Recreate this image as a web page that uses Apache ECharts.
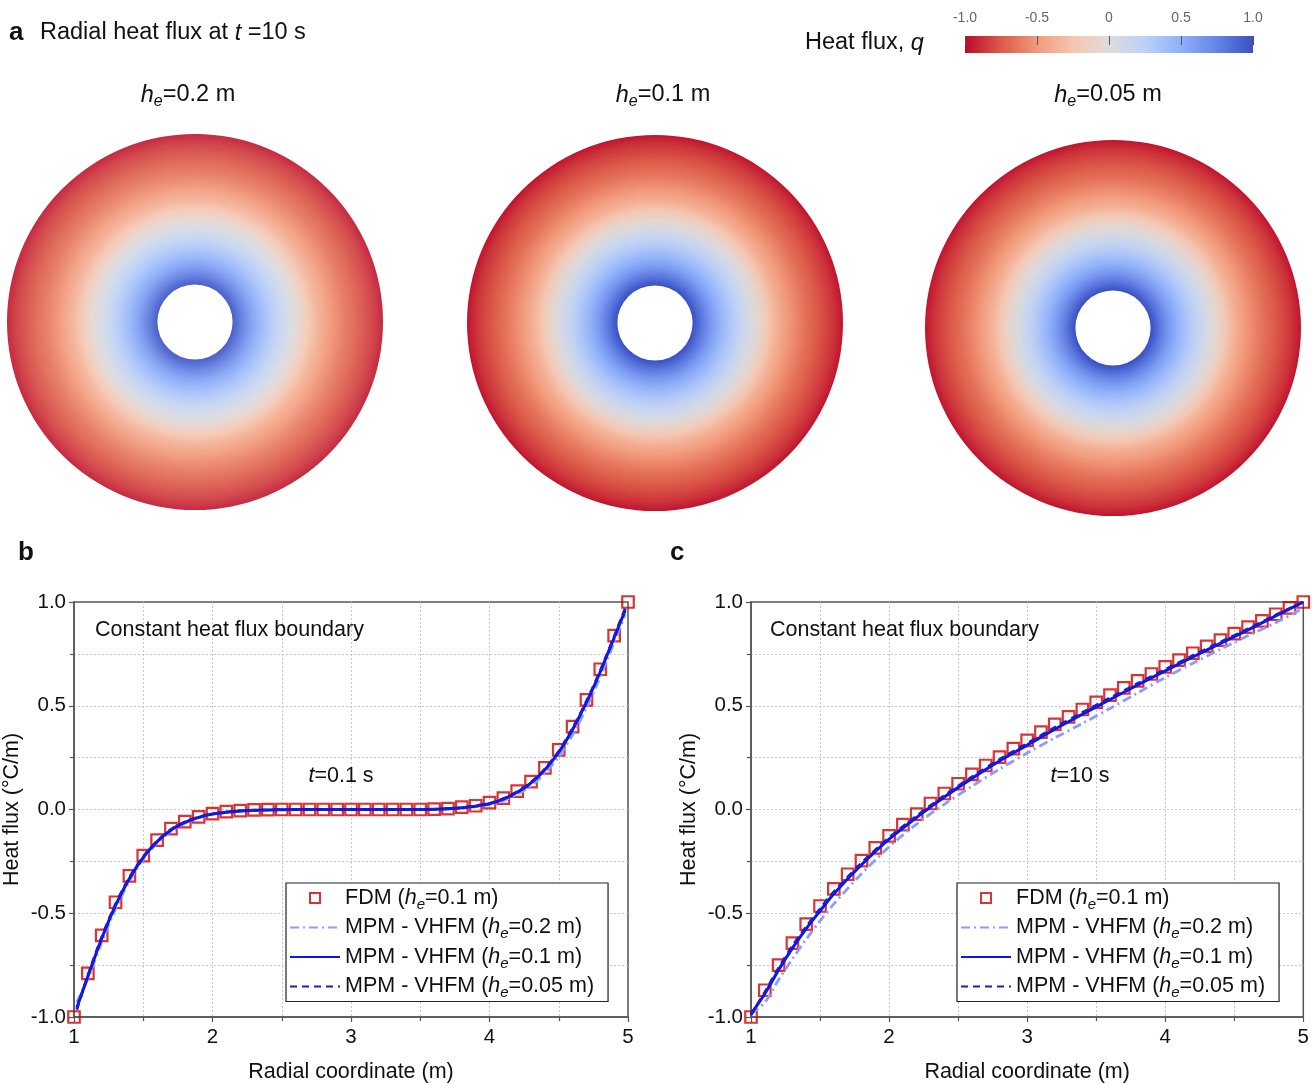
<!DOCTYPE html>
<html>
<head>
<meta charset="utf-8">
<script src="https://cdn.jsdelivr.net/npm/echarts@6/dist/echarts.min.js"></script>
<style>
  html, body { margin: 0; padding: 0; background: #fff; }
  #chart { width: 1312px; height: 1084px; }
</style>
</head>
<body>
<div id="chart"></div>
<script>
const FONT = '"Liberation Sans", Arial, Helvetica, sans-serif';

// Cool-to-warm colour scale used for heat flux q
const scaleValues = [-1, -0.75, -0.5, -0.25, 0, 0.25, 0.5, 0.75, 1];
const scaleColors = ['#bc0a2c', '#dc5a48', '#f29a7b', '#f5c6b0', '#dedcdc', '#bcd1f6', '#8fb0fb', '#6384e6', '#3b4fc4'];
const colorbarTicks = [-1, -0.5, 0, 0.5, 1];

// Radial heat flux inside the wall at t = 10 s (disk maps)
const diskLabels = ['0.2', '0.1', '0.05'];
const diskRadius = [1.0, 1.25, 1.5, 1.75, 2.0, 2.25, 2.5, 2.75, 3.0, 3.25, 3.5, 3.75, 4.0, 4.25, 4.5, 4.75, 5.0];
const diskFlux = [1.0, 0.8, 0.62, 0.47, 0.33, 0.2, 0.07, -0.08, -0.24, -0.38, -0.49, -0.58, -0.66, -0.73, -0.8, -0.87, -0.97];

// FDM reference solution (he = 0.1 m), radii 1.0 ... 5.0 step 0.1
const fdmRadius = [1.0, 1.1, 1.2, 1.3, 1.4, 1.5, 1.6, 1.7, 1.8, 1.9, 2.0, 2.1, 2.2, 2.3, 2.4, 2.5, 2.6, 2.7, 2.8, 2.9,
  3.0, 3.1, 3.2, 3.3, 3.4, 3.5, 3.6, 3.7, 3.8, 3.9, 4.0, 4.1, 4.2, 4.3, 4.4, 4.5, 4.6, 4.7, 4.8, 4.9, 5.0];
const fdmT01 = [-1.0, -0.79, -0.607, -0.447, -0.32, -0.222, -0.148, -0.092, -0.058, -0.036, -0.02, -0.01, -0.005, -0.002, -0.001,
  0, 0, 0, 0, 0, 0, 0, 0, 0, 0, 0, 0.002, 0.004, 0.011, 0.018, 0.033, 0.055, 0.089, 0.134, 0.201, 0.287, 0.399, 0.528, 0.676, 0.838, 1.0];
const fdmT10 = [-1.0, -0.871, -0.75, -0.644, -0.552, -0.465, -0.383, -0.312, -0.246, -0.185, -0.127, -0.073, -0.022, 0.029, 0.077,
  0.124, 0.169, 0.212, 0.252, 0.293, 0.333, 0.373, 0.41, 0.446, 0.482, 0.516, 0.551, 0.586, 0.62, 0.653, 0.687, 0.72, 0.753,
  0.786, 0.816, 0.848, 0.879, 0.909, 0.941, 0.972, 1.0];

// MPM - VHFM results at t = 0.1 s
const mpmRadiusT01 = [1.02, 1.1, 1.2, 1.3, 1.4, 1.5, 1.6, 1.7, 1.8, 1.9, 2.0, 2.2, 2.4, 2.6, 2.8, 3.0, 3.2, 3.4, 3.6, 3.8,
  4.0, 4.1, 4.2, 4.3, 4.4, 4.5, 4.6, 4.7, 4.8, 4.9, 4.98];
const mpmT01h02 = [-0.93, -0.815, -0.64, -0.478, -0.345, -0.24, -0.162, -0.104, -0.066, -0.041, -0.024, -0.008, -0.003, 0, 0, 0, 0, 0,
  0.001, 0.006, 0.024, 0.043, 0.074, 0.115, 0.175, 0.255, 0.36, 0.49, 0.64, 0.805, 0.94];
const mpmT01h01 = [-0.955, -0.805, -0.622, -0.462, -0.333, -0.231, -0.155, -0.099, -0.062, -0.038, -0.022, -0.007, -0.002, 0, 0, 0, 0, 0,
  0.001, 0.008, 0.028, 0.05, 0.083, 0.128, 0.192, 0.276, 0.386, 0.516, 0.664, 0.828, 0.96];
const mpmT01h005 = [-0.965, -0.8, -0.615, -0.456, -0.328, -0.227, -0.152, -0.096, -0.06, -0.037, -0.021, -0.006, -0.002, 0, 0, 0, 0, 0,
  0.001, 0.009, 0.03, 0.053, 0.086, 0.131, 0.196, 0.281, 0.392, 0.522, 0.67, 0.834, 0.97];

// MPM - VHFM results at t = 10 s
const mpmRadiusT10 = [1.0, 1.1, 1.2, 1.3, 1.4, 1.5, 1.6, 1.8, 2.0, 2.2, 2.4, 2.6, 2.8, 3.0, 3.2, 3.4, 3.6, 3.8, 4.0, 4.2, 4.4, 4.6, 4.8, 5.0];
const mpmT10h02 = [-0.985, -0.93, -0.82, -0.72, -0.625, -0.537, -0.455, -0.31, -0.18, -0.07, 0.025, 0.112, 0.195, 0.272, 0.345, 0.415,
  0.487, 0.562, 0.636, 0.705, 0.772, 0.838, 0.9, 0.97];
const mpmT10h01 = [-0.985, -0.888, -0.773, -0.668, -0.574, -0.489, -0.406, -0.266, -0.143, -0.038, 0.06, 0.15, 0.234, 0.31, 0.387, 0.459,
  0.53, 0.6, 0.668, 0.735, 0.801, 0.866, 0.933, 1.0];
const mpmT10h005 = [-0.99, -0.88, -0.764, -0.658, -0.565, -0.479, -0.397, -0.258, -0.136, -0.031, 0.067, 0.157, 0.241, 0.318, 0.395, 0.467,
  0.538, 0.607, 0.675, 0.742, 0.807, 0.871, 0.937, 1.0];

const SERIES_NAMES = ['FDM (h_e=0.1 m)', 'MPM - VHFM (h_e=0.2 m)', 'MPM - VHFM (h_e=0.1 m)', 'MPM - VHFM (h_e=0.05 m)'];

function zip(xs, ys) { return xs.map((x, i) => [x, ys[i]]); }

function hexToRgb(h) {
  return [parseInt(h.slice(1, 3), 16), parseInt(h.slice(3, 5), 16), parseInt(h.slice(5, 7), 16)];
}
function colorAt(v) {
  const n = scaleValues.length;
  if (v <= scaleValues[0]) return scaleColors[0];
  if (v >= scaleValues[n - 1]) return scaleColors[n - 1];
  for (let i = 0; i < n - 1; i++) {
    if (v <= scaleValues[i + 1]) {
      const t = (v - scaleValues[i]) / (scaleValues[i + 1] - scaleValues[i]);
      const a = hexToRgb(scaleColors[i]), b = hexToRgb(scaleColors[i + 1]);
      const c = a.map((x, k) => Math.round(x + (b[k] - x) * t));
      return 'rgb(' + c.join(',') + ')';
    }
  }
}

const rMax = diskRadius[diskRadius.length - 1];
const diskGradient = {
  type: 'radial', x: 0.5, y: 0.5, r: 0.5,
  colorStops: diskRadius.map((r, i) => ({ offset: r / rMax, color: colorAt(diskFlux[i]) }))
};
const barGradientStops = scaleValues.map((v, i) => ({
  offset: (v - scaleValues[0]) / (scaleValues[scaleValues.length - 1] - scaleValues[0]),
  color: scaleColors[i]
}));

const diskCenters = [[195, 322], [655, 323], [1113, 328]];
const diskOuter = 188;
// coarse mesh (he = 0.2 m) shows its particle cells as a faint grid
const cellTexture = {
  symbol: 'rect', symbolSize: 1, symbolKeepAspect: false,
  color: 'rgba(0,0,0,0)', backgroundColor: 'rgba(255,255,255,0.09)',
  dashArrayX: [[3.6, 0.9]], dashArrayY: [3.6, 0.9], rotation: 0
};

// rich styles for the graphic texts (top panel 23.5px, lower panels 21.5px)
function makeRich(size, sub) {
  return {
    it: { fontStyle: 'italic', fontSize: size, fontFamily: FONT, fill: '#111', lineHeight: 30 },
    sub: { fontStyle: 'italic', fontSize: sub, fontFamily: FONT, fill: '#111', lineHeight: sub, verticalAlign: 'bottom' },
    bold: { fontWeight: 'bold', fontSize: 26, fontFamily: FONT, fill: '#111', lineHeight: 30 },
    n: { fontSize: size, fontFamily: FONT, fill: '#111', lineHeight: 30 }
  };
}
const richTop = makeRich(23.5, 16);
const richLow = makeRich(21.5, 15);
function textEl(x, y, text, rich, align) {
  return {
    type: 'text', x: x, y: y, z: 50,
    style: { text: text, rich: rich, fontFamily: FONT, fill: '#111', align: align || 'left', verticalAlign: 'middle' }
  };
}

const graphics = [
  textEl(9, 33, '{bold|a}', richTop),
  textEl(40, 33, '{n|Radial heat flux at }{it|t}{n| =10 s}', richTop),
  textEl(805, 43, '{n|Heat flux, }{it|q}', richTop),
  textEl(18, 553, '{bold|b}', richLow),
  textEl(670, 553, '{bold|c}', richLow),
  textEl(95, 630, '{n|Constant heat flux boundary}', richLow),
  textEl(770, 630, '{n|Constant heat flux boundary}', richLow),
  textEl(341, 776, '{it|t}{n|=0.1 s}', richLow, 'center'),
  textEl(1080, 776, '{it|t}{n|=10 s}', richLow, 'center')
];
const subtitleX = [188, 663, 1108];
diskLabels.forEach((h, i) => {
  graphics.push(textEl(subtitleX[i], 95, '{it|h}{sub|e}{n|=' + h + ' m}', richTop, 'center'));
});

const legendRich = {
  i: { fontStyle: 'italic', fontSize: 21.5, fontFamily: FONT, color: '#111', lineHeight: 28 },
  s: { fontStyle: 'italic', fontSize: 15, fontFamily: FONT, color: '#111', lineHeight: 15, verticalAlign: 'bottom' }
};
function legendFmt(name) { return name.replace('h_e', '{i|h}{s|e}'); }
function legendFor(left) {
  return {
    left: left, top: 883, orient: 'vertical',
    data: SERIES_NAMES.map((n, i) => i === 0
      ? { name: n, icon: 'path://M0,0L10,0L10,10L0,10Z' }
      : { name: n, itemStyle: { opacity: 0 } }),
    formatter: legendFmt,
    itemWidth: 50, itemHeight: 10, itemGap: 1.5,
    padding: [1, 14, 1, 3],
    borderColor: '#222', borderWidth: 1.2, backgroundColor: '#fff',
    selectedMode: false,
    textStyle: { fontSize: 21.5, fontFamily: FONT, color: '#111', lineHeight: 28, rich: legendRich }
  };
}

const gridLine = { color: '#c8c8c8', type: [2, 2], width: 1 };
function plotXAxis(gi) {
  return {
    gridIndex: gi, type: 'value', min: 1, max: 5, interval: 1,
    name: 'Radial coordinate (m)', nameLocation: 'middle', nameGap: 44,
    nameTextStyle: { fontSize: 21.5, fontFamily: FONT, color: '#111' },
    axisLine: { onZero: false, lineStyle: { color: '#555', width: 1.5 } },
    axisTick: { length: 5, lineStyle: { color: '#555', width: 1.2 } },
    minorTick: { show: true, splitNumber: 2, length: 4, lineStyle: { color: '#555', width: 1.2 } },
    axisLabel: { fontSize: 20.5, fontFamily: FONT, color: '#111', margin: 10 },
    splitLine: { show: true, showMinLine: false, showMaxLine: false, lineStyle: gridLine },
    minorSplitLine: { show: true, lineStyle: gridLine }
  };
}
function plotYAxis(gi) {
  return {
    gridIndex: gi, type: 'value', min: -1, max: 1, interval: 0.5,
    name: 'Heat flux (\u00B0C/m)', nameLocation: 'middle', nameGap: 51,
    nameTextStyle: { fontSize: 21.5, fontFamily: FONT, color: '#111' },
    axisLine: { onZero: false, lineStyle: { color: '#555', width: 1.5 } },
    axisTick: { length: 5, lineStyle: { color: '#555', width: 1.2 } },
    minorTick: { show: true, splitNumber: 2, length: 4, lineStyle: { color: '#555', width: 1.2 } },
    axisLabel: { fontSize: 20.5, fontFamily: FONT, color: '#111', margin: 8, formatter: v => v.toFixed(1) },
    splitLine: { show: true, showMinLine: false, showMaxLine: false, lineStyle: gridLine },
    minorSplitLine: { show: true, lineStyle: gridLine }
  };
}

function plotSeries(gi, fdm, mpmR, h02, h01, h005) {
  return [
    {
      name: SERIES_NAMES[0], type: 'scatter', xAxisIndex: gi, yAxisIndex: gi,
      data: zip(fdmRadius, fdm), symbol: 'rect', symbolSize: 11.5, z: 3,
      itemStyle: { color: 'rgba(255,255,255,0)', borderColor: '#cf0000', borderWidth: 2.2 }
    },
    {
      name: SERIES_NAMES[1], type: 'line', xAxisIndex: gi, yAxisIndex: gi,
      data: zip(mpmR, h02), symbol: 'none', smooth: 0.3, z: 4,
      itemStyle: { color: '#8a9cff' },
      lineStyle: { color: '#8a9cff', width: 2.8, type: [9, 4, 2, 4] }
    },
    {
      name: SERIES_NAMES[2], type: 'line', xAxisIndex: gi, yAxisIndex: gi,
      data: zip(mpmR, h01), symbol: 'none', smooth: 0.3, z: 5,
      itemStyle: { color: '#0a14f0' },
      lineStyle: { color: '#0a14f0', width: 3 }
    },
    {
      name: SERIES_NAMES[3], type: 'line', xAxisIndex: gi, yAxisIndex: gi,
      data: zip(mpmR, h005), symbol: 'none', smooth: 0.3, z: 6,
      itemStyle: { color: '#1c1ccc' },
      lineStyle: { color: '#1c1ccc', width: 2.8, type: [7, 5] }
    }
  ];
}

const polars = diskCenters.map(c => ({ center: c, radius: [diskOuter * diskRadius[0] / rMax, diskOuter] }));
const angleAxes = diskCenters.map((c, i) => ({ polarIndex: i, type: 'category', data: ['q'], show: false, startAngle: 90 }));
const radiusAxes = diskCenters.map((c, i) => ({ polarIndex: i, type: 'value', min: diskRadius[0], max: rMax, show: false }));
const diskSeries = diskCenters.map((c, i) => ({
  type: 'bar', coordinateSystem: 'polar', polarIndex: i,
  data: [rMax], barCategoryGap: '0%', barGap: '0%', silent: true,
  itemStyle: i === 0 ? { color: diskGradient, decal: cellTexture } : { color: diskGradient }
}));

const option = {
  backgroundColor: '#fff',
  animation: false,
  textStyle: { fontFamily: FONT },
  graphic: graphics,
  polar: polars,
  angleAxis: angleAxes,
  radiusAxis: radiusAxes,
  grid: [
    { left: 965, top: 36, width: 288, height: 17, show: false },
    { left: 74, top: 602, width: 554, height: 415, show: true, borderColor: '#555', borderWidth: 1.5 },
    { left: 751, top: 602, width: 554, height: 415, show: true, borderColor: '#555', borderWidth: 1.5 }
  ],
  xAxis: [
    {
      gridIndex: 0, type: 'value', min: colorbarTicks[0], max: colorbarTicks[colorbarTicks.length - 1], interval: 0.5,
      position: 'top', z: 10,
      axisLine: { show: false, onZero: false },
      axisTick: { show: true, inside: true, length: 9, lineStyle: { color: '#555', width: 1 } },
      axisLabel: { fontSize: 14, fontFamily: FONT, color: '#666', margin: 11,
        formatter: v => (v === 0 ? '0' : v.toFixed(1)) },
      splitLine: { show: false }
    },
    plotXAxis(1), plotXAxis(2)
  ],
  yAxis: [
    { gridIndex: 0, type: 'value', min: 0, max: 1, show: false },
    plotYAxis(1), plotYAxis(2)
  ],
  legend: [legendFor(286), legendFor(957)],
  series: [
    ...diskSeries,
    {
      type: 'custom', xAxisIndex: 0, yAxisIndex: 0, silent: true, z: 1,
      data: [[colorbarTicks[0], colorbarTicks[colorbarTicks.length - 1]]],
      renderItem: (params, api) => {
        const p0 = api.coord([api.value(0), 0]);
        const p1 = api.coord([api.value(1), 1]);
        return {
          type: 'rect',
          shape: { x: p0[0], y: p1[1], width: p1[0] - p0[0], height: p0[1] - p1[1] },
          style: { fill: new echarts.graphic.LinearGradient(0, 0, 1, 0, barGradientStops) }
        };
      }
    },
    ...plotSeries(1, fdmT01, mpmRadiusT01, mpmT01h02, mpmT01h01, mpmT01h005),
    ...plotSeries(2, fdmT10, mpmRadiusT10, mpmT10h02, mpmT10h01, mpmT10h005)
  ]
};

const chart = echarts.init(document.getElementById('chart'), null, { renderer: 'canvas' });
chart.setOption(option);
</script>
</body>
</html>
